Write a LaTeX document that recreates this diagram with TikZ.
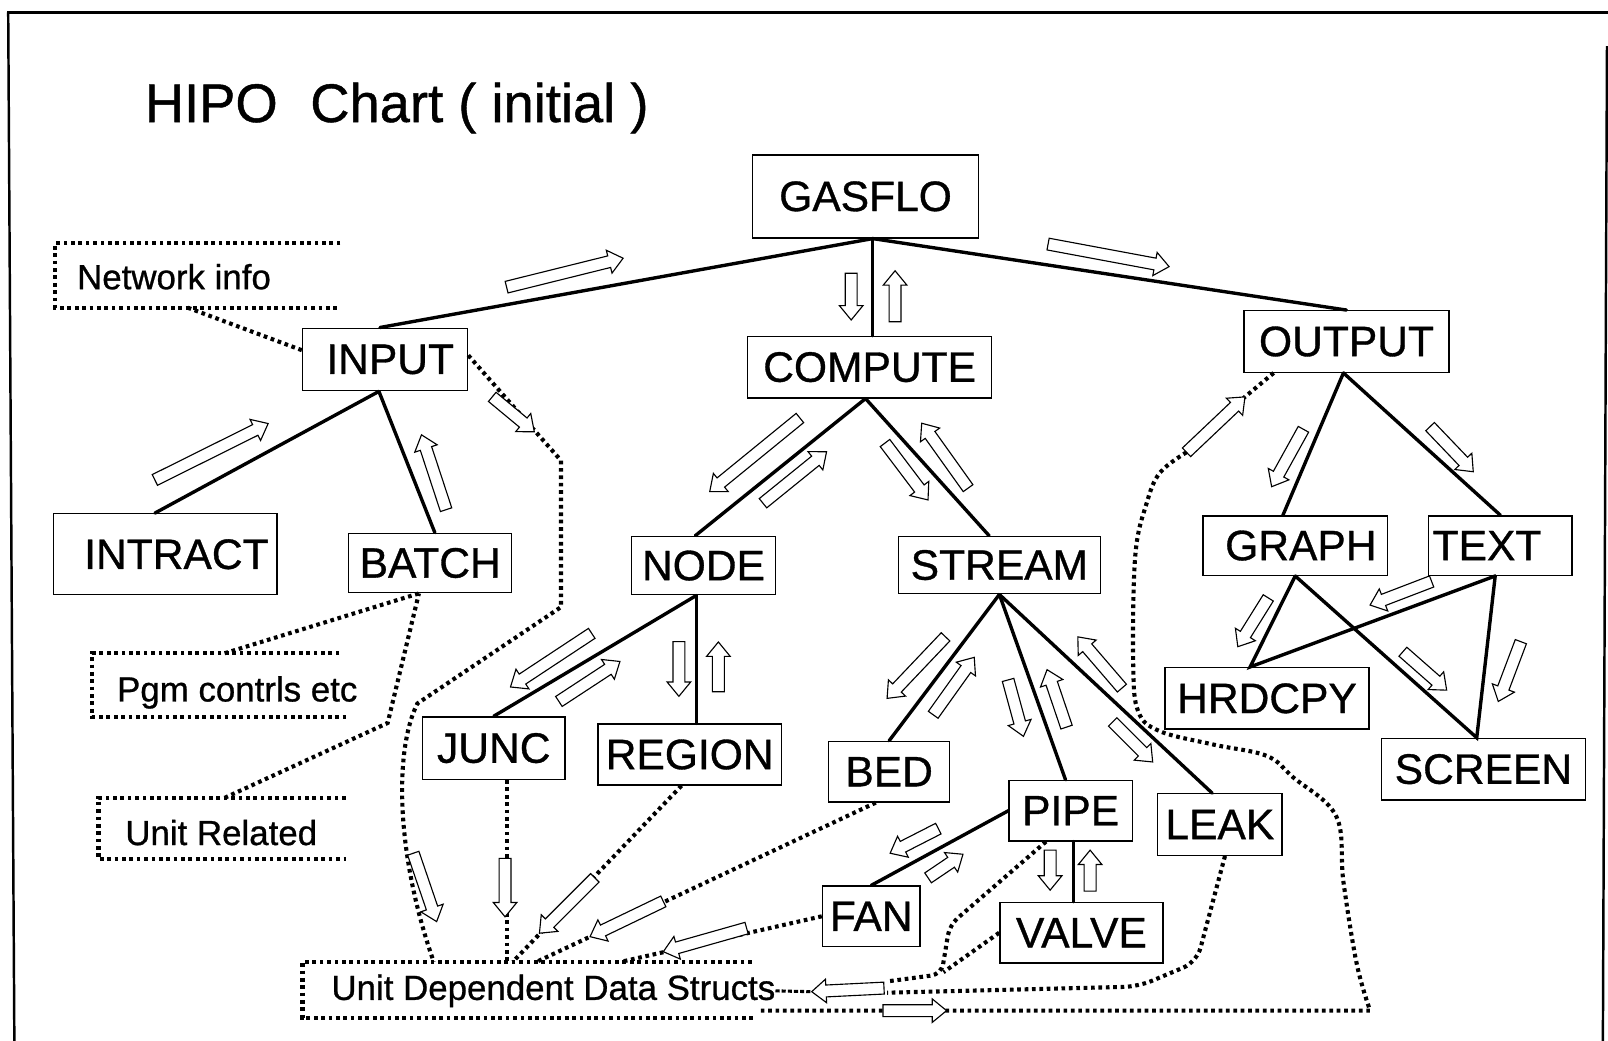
\documentclass[tikz,border=0pt]{standalone}
\usepackage{fontspec}
\setmainfont{Liberation Sans}[FakeBold=0.8]
\newfontfamily\heavyfont{Liberation Sans}[FakeBold=0.8]
\usetikzlibrary{calc}
\newcommand\nfont{\heavyfont\fontsize{41.5}{48}\selectfont}
\newcommand\lfont{\heavyfont\fontsize{34}{40}\selectfont}
\newcommand\tfont{\heavyfont\fontsize{53}{60}\selectfont}
\tikzset{
 box/.style={draw, line width=1.3pt, inner sep=0pt, fill=white, font=\nfont},
 lbl/.style={inner sep=0pt, font=\lfont, anchor=base west},
 tree/.style={line width=3.3pt, line cap=round},
 dotline/.style={line width=4pt, line cap=butt, dash pattern=on 3.6pt off 3.6pt},
 harr/.style={draw, line width=1.1pt, fill=white, line join=miter},
 frame/.style={line width=2.4pt},
}
% hollow block arrow from (#1,#2) to (#3,#4)
\newcommand\harrow[4]{%
  \pgfmathsetmacro\hdx{#3-(#1)}%
  \pgfmathsetmacro\hdy{#2-(#4)}%
  \pgfmathsetmacro\hang{atan2(\hdy,\hdx)}%
  \pgfmathsetmacro\hlen{veclen(\hdx,\hdy)}%
  \pgfmathsetmacro\hbase{\hlen-14}%
  \draw[harr,shift={(#1,#2)},rotate=\hang] (0pt,-5.8pt) -- (\hbase pt,-5.8pt) -- (\hbase pt,-11.5pt) -- (\hlen pt,0pt) -- (\hbase pt,11.5pt) -- (\hbase pt,5.8pt) -- (0pt,5.8pt) -- cycle;}
\begin{document}
\begin{tikzpicture}[x=1pt,y=-1pt]
\useasboundingbox (0,0) rectangle (1568,1015);
% frame
\draw[frame] (7,12) -- (1568,12);
\draw[frame] (8,12) -- (14,1015);
\draw[frame] (1567,45) -- (1563,1015);
% title
\node[inner sep=0pt, anchor=base west, font=\tfont] (title) at (141,119) {HIPO\hspace{0.6em}Chart ( initial )};
% boxes
\node[box, minimum width=220, minimum height=81] (gasflo) at (844,191.5) {GASFLO};
\node[box, minimum width=161, minimum height=61] (input) at (375.5,350.5) {\hspace*{10pt}INPUT};
\node[box, minimum width=238, minimum height=60] (compute) at (848,358) {COMPUTE};
\node[box, minimum width=200, minimum height=60] (output) at (1313,333) {OUTPUT};
\node[box, minimum width=218, minimum height=79] (intract) at (161,540.5) {\hspace*{22pt}INTRACT};
\node[box, minimum width=159, minimum height=58] (batch) at (419.5,549) {BATCH};
\node[box, minimum width=140, minimum height=57] (ndnode) at (686,551.5) {NODE};
\node[box, minimum width=197, minimum height=56] (stream) at (974.5,551) {STREAM};
\node[box, minimum width=180, minimum height=58] (graph) at (1263,532) {\hspace*{11pt}GRAPH};
\node[box, minimum width=140, minimum height=58] (txt) at (1463,532) {TEXT\hspace*{26pt}};
\node[box, minimum width=139, minimum height=61] (junc) at (481.5,729.5) {JUNC};
\node[box, minimum width=179, minimum height=59.5] (region) at (672.5,735.75) {REGION};
\node[box, minimum width=118, minimum height=59] (bed) at (867,752.5) {BED};
\node[box, minimum width=120, minimum height=59] (pipe) at (1044,790.5) {PIPE};
\node[box, minimum width=121, minimum height=60] (leak) at (1189.5,804) {LEAK};
\node[box, minimum width=199, minimum height=60] (hrdcpy) at (1235.5,681) {HRDCPY};
\node[box, minimum width=199, minimum height=60] (screen) at (1446.5,750) {SCREEN};
\node[box, minimum width=95, minimum height=59] (fan) at (849.5,893.5) {FAN};
\node[box, minimum width=159, minimum height=59] (valve) at (1054.5,909.5) {VALVE};
% dotted label boxes
\draw[dotline] (332,237) -- (54,237) -- (54,300) -- (332,300);
\node[lbl] (netinfo) at (75,282) {Network info};
\draw[dotline] (331,637) -- (90,637) -- (90,699) -- (338,699);
\node[lbl] (pgm) at (114,684) {Pgm contrls etc};
\draw[dotline] (337,778) -- (96,778) -- (96,838) -- (337,838);
\node[lbl] (unitrel) at (122,824) {Unit Related};
\draw[dotline] (733,938) -- (295,938) -- (295,993) -- (736,993);
\node[lbl] (udds) at (323,975) {Unit Dependent Data Structs};
% named free ends
\coordinate (niB) at (183,300);
\coordinate (pgT) at (219,637);
\coordinate (urT) at (219,778);
\coordinate (urK) at (378,705);
\coordinate (u1) at (423,938);
\coordinate (u2) at (494,938);
\coordinate (u3) at (500,938);
\coordinate (u4) at (523,938);
\coordinate (u5) at (605,938);
\coordinate (u6) at (742,985.5);
\coordinate (aT) at (865,957);
\coordinate (aL) at (865,968);
\coordinate (aH) at (791,967);
% dotted connectors
\draw[dotline] (niB) -- ([yshift=9]input.west);
\draw[dotline] (pgT) -- ([xshift=-11]batch.south);
\draw[dotline] (urT) -- (urK) -- ([xshift=-11]batch.south);
\draw[dotline] ([yshift=4]input.east) -- (547,449) -- (547,592) -- (407,686) .. controls (385,730) and (385,830) .. (u1);
\draw[dotline] ([xshift=12.5]junc.south) -- (u2);
\draw[dotline] ([xshift=-8]region.south) -- (u3);
\draw[dotline] ([xshift=-13]bed.south) -- (u4);
\draw[dotline] (fan.west) -- (u5);
\draw[dotline, rounded corners=10] ([xshift=-24]pipe.south) -- (926,902) -- (918,950) -- (aT);
\draw[dotline] (valve.west) -- (920,948);
\draw[dotline, rounded corners=14] ([xshift=5]leak.south) -- (1167,938) -- (1110,962) -- (aL);
\draw[dotline] ([xshift=-71]output.south) -- (1214,387) -- (1157,441)
  plot[smooth, tension=0.6] coordinates {(1157,441) (1131,461) (1118,491) (1107,542) (1105,648) (1110,694) (1131,713) (1183,726) (1235,737) (1261,758) (1303,796) (1310,860) (1323,940) (1336,985.5)} -- (u6);
\draw[line width=3pt, dash pattern=on 4pt off 2pt] (udds.east) -- (aH);
% tree lines
\coordinate (gB) at ([xshift=7]gasflo.south);
\draw[tree] (gB) -- ([xshift=-5]input.north);
\draw[tree] (gB) -- (output.north);
\draw[tree] (gB) -- (gB |- compute.north);
\coordinate (cB) at ([xshift=-4]compute.south);
\draw[tree] (cB) -- ([xshift=-8]ndnode.north);
\draw[tree] (cB) -- ([xshift=-10]stream.north);
\coordinate (iB) at ([xshift=-6]input.south);
\draw[tree] (iB) -- ([xshift=-10]intract.north);
\draw[tree] (iB) -- ([xshift=4.5]batch.north);
\coordinate (nB) at ([xshift=-7]ndnode.south);
\draw[tree] (nB) -- (junc.north);
\draw[tree] (nB) -- (nB |- region.north);
\coordinate (sB) at (stream.south);
\draw[tree] (sB) -- (bed.north);
\draw[tree] (sB) -- ([xshift=-5]pipe.north);
\draw[tree] (sB) -- ([xshift=-7.5]leak.north);
\draw[tree] (pipe.west) -- (fan.north);
\coordinate (pB) at ([xshift=3]pipe.south);
\draw[tree] (pB) -- (pB |- valve.north);
\coordinate (oB) at ([xshift=-3]output.south);
\draw[tree] (oB) -- ([xshift=-12]graph.north);
\draw[tree] (oB) -- (txt.north);
\coordinate (grB) at (graph.south);
\coordinate (txB) at ([xshift=-5]txt.south);
\draw[tree] (grB) -- ([xshift=-16.5]hrdcpy.north) -- (txB);
\draw[tree] (grB) -- ([xshift=-6.5]screen.north) -- (txB);
% hollow arrows
\harrow{494}{280}{607.6}{251.8}
\harrow{1022}{238}{1140}{260}
\harrow{830}{266.5}{830}{312}
\harrow{872.8}{313.7}{872.8}{264}
\harrow{151}{468}{261.5}{413}
\harrow{435}{497}{411}{424}
\harrow{480}{387}{521}{421}
\harrow{780}{407.6}{692}{479.4}
\harrow{744}{490.7}{806}{440.5}
\harrow{863}{432}{905}{487.6}
\harrow{944}{476}{898.7}{412.6}
\harrow{577}{617.6}{497.6}{670}
\harrow{545}{684}{604.5}{645}
\harrow{662}{625.7}{662}{679}
\harrow{700.5}{674.5}{700.5}{626}
\harrow{922}{621}{865}{681}
\harrow{910}{697}{950}{641}
\harrow{983}{663}{998}{718}
\harrow{1040}{709}{1021}{653}
\harrow{1094}{671}{1051}{621}
\harrow{1085}{704}{1124}{743}
\harrow{915}{808}{868}{832}
\harrow{905}{856}{939}{833}
\harrow{1024}{829}{1024}{868}
\harrow{1063}{869}{1063}{829}
\harrow{403}{832}{425.8}{898.7}
\harrow{492.5}{837}{492.5}{894}
\harrow{580}{856}{526}{910}
\harrow{646.8}{879}{575.3}{913.4}
\harrow{728}{905}{646.8}{928}
\harrow{862}{963.5}{791.5}{967}
\harrow{1157}{441}{1214}{387}
\harrow{861}{985.5}{923}{985.5}
\harrow{1271}{418.6}{1240}{474.6}
\harrow{1394.5}{416}{1436.6}{460}
\harrow{1236.7}{583}{1207}{630.6}
\harrow{1396}{567}{1336}{590}
\harrow{1368}{635.5}{1410.7}{673}
\harrow{1483}{625.7}{1461}{684}
\end{tikzpicture}
\end{document}
